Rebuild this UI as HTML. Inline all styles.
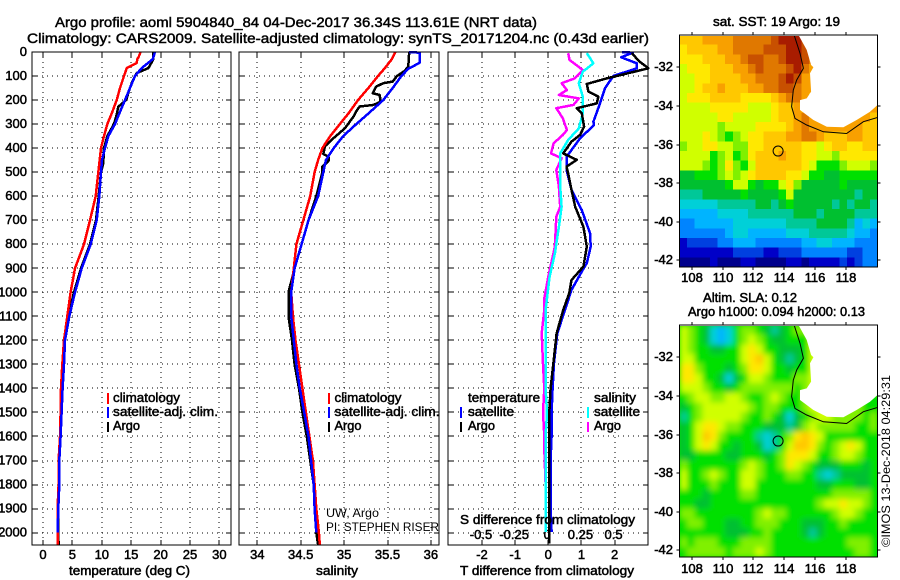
<!DOCTYPE html>
<html lang="en">
<head>
<meta charset="utf-8">
<title>Argo profile 5904840_84</title>
<style>
html,body{margin:0;padding:0;background:#fff;}
svg{display:block;font-family:"Liberation Sans",sans-serif;}
text{fill:#000;font-size:13px;stroke:#000;stroke-width:.5px;}
.thin{stroke:none;font-size:12px;}
.title{font-size:14px;stroke-width:.45px;}
.frame{fill:none;stroke:#000;stroke-width:1;shape-rendering:crispEdges;}
.grid{stroke:#000;stroke-width:1;stroke-dasharray:1 4;shape-rendering:crispEdges;}
.tick{stroke:#000;stroke-width:1;shape-rendering:crispEdges;}
.line{fill:none;stroke-width:2.5;shape-rendering:crispEdges;stroke-linejoin:round;}
.bar{stroke-width:2;shape-rendering:crispEdges;}
</style>
</head>
<body>
<svg id="chart" width="900" height="580" viewBox="0 0 900 580" xmlns="http://www.w3.org/2000/svg">
<defs>
<filter id="soft" x="-5%" y="-5%" width="110%" height="110%"><feGaussianBlur stdDeviation="3"/></filter>
<clipPath id="clipA"><rect x="680" y="36" width="197" height="231"/></clipPath>
<clipPath id="clipB"><rect x="680" y="326" width="197" height="231"/></clipPath>
</defs>

<text class="title" x="55" y="27" textLength="482" lengthAdjust="spacingAndGlyphs">Argo profile: aoml 5904840_84 04-Dec-2017 36.34S 113.61E (NRT data)</text>
<text class="title" x="27" y="43" textLength="622" lengthAdjust="spacingAndGlyphs">Climatology: CARS2009. Satellite-adjusted climatology: synTS_20171204.nc (0.43d earlier)</text>

<g id="layerPanels"></g>

<text x="69" y="575" textLength="121" lengthAdjust="spacingAndGlyphs">temperature (deg C)</text>
<text x="316" y="575" textLength="42" lengthAdjust="spacingAndGlyphs">salinity</text>
<text x="460" y="575" textLength="174" lengthAdjust="spacingAndGlyphs">T difference from climatology</text>

<g>
<line class="bar" x1="108" y1="393" x2="108" y2="404" stroke="#ff0000"/>
<text x="113" y="402" textLength="67" lengthAdjust="spacingAndGlyphs">climatology</text>
<line class="bar" x1="108" y1="407" x2="108" y2="418" stroke="#0000ff"/>
<text x="113" y="416" textLength="105" lengthAdjust="spacingAndGlyphs">satellite-adj. clim.</text>
<line class="bar" x1="108" y1="422" x2="108" y2="432" stroke="#000"/>
<text x="113" y="430" textLength="27" lengthAdjust="spacingAndGlyphs">Argo</text>
</g>

<g>
<line class="bar" x1="329" y1="393" x2="329" y2="404" stroke="#ff0000"/>
<text x="334.5" y="402" textLength="67" lengthAdjust="spacingAndGlyphs">climatology</text>
<line class="bar" x1="329" y1="407" x2="329" y2="418" stroke="#0000ff"/>
<text x="334.5" y="416" textLength="105" lengthAdjust="spacingAndGlyphs">satellite-adj. clim.</text>
<line class="bar" x1="329" y1="422" x2="329" y2="432" stroke="#000"/>
<text x="334.5" y="430" textLength="27" lengthAdjust="spacingAndGlyphs">Argo</text>
<text class="thin" x="326" y="517" textLength="53" lengthAdjust="spacingAndGlyphs">UW, Argo</text>
<text class="thin" x="326" y="531" textLength="113" lengthAdjust="spacingAndGlyphs">PI: STEPHEN RISER</text>
</g>

<g>
<text x="468" y="402" textLength="72" lengthAdjust="spacingAndGlyphs">temperature</text>
<line class="bar" x1="461" y1="407" x2="461" y2="418" stroke="#0000ff"/>
<text x="468" y="416" textLength="46" lengthAdjust="spacingAndGlyphs">satellite</text>
<line class="bar" x1="461" y1="422" x2="461" y2="432" stroke="#000"/>
<text x="468" y="430" textLength="27" lengthAdjust="spacingAndGlyphs">Argo</text>
<text x="594" y="402" textLength="42" lengthAdjust="spacingAndGlyphs">salinity</text>
<line class="bar" x1="588" y1="407" x2="588" y2="418" stroke="#00ffff"/>
<text x="594" y="416" textLength="46" lengthAdjust="spacingAndGlyphs">satellite</text>
<line class="bar" x1="588" y1="422" x2="588" y2="432" stroke="#ff00ff"/>
<text x="594" y="430" textLength="27" lengthAdjust="spacingAndGlyphs">Argo</text>
<text x="460" y="524" textLength="175" lengthAdjust="spacingAndGlyphs">S difference from climatology</text>
</g>

<g id="layerMaps"></g>

<text x="713" y="26" textLength="127" lengthAdjust="spacingAndGlyphs">sat. SST: 19 Argo: 19</text>
<text x="703" y="302" textLength="94" lengthAdjust="spacingAndGlyphs">Altim. SLA: 0.12</text>
<text x="688" y="316" textLength="177" lengthAdjust="spacingAndGlyphs">Argo h1000: 0.094 h2000: 0.13</text>
<text class="thin" transform="translate(890 547) rotate(-90)" textLength="172" lengthAdjust="spacingAndGlyphs">©IMOS 13-Dec-2018 04:29:31</text>
</svg>

<script>
// ---------- profile data ----------
const depthTicks = [0,100,200,300,400,500,600,700,800,900,1000,1100,1200,1300,1400,1500,1600,1700,1800,1900,2000];
const tempTicks = [0,5,10,15,20,25,30];
const salTicks = [34,34.5,35,35.5,36];
const salTickLabels = ['34','34.5','35','35.5','36'];
const diffTicks = [-2,-1,0,1,2];
const sDiffTicks = [-0.5,-0.25,0,0.25,0.5];
const sDiffTickLabels = ['-0.5','-0.25','0','0.25','0.5'];

const tempClimDepth = [0,20,30,46,67,100,150,200,256,300,350,400,500,600,700,800,900,1000,1100,1200,1300,1400,1500,1600,1700,1800,1900,2000,2050];
const tempClimValue = [16.6,16.27,16.04,15.93,14.23,13.78,13.1,12.53,11.68,10.94,10.37,9.86,9.41,8.96,7.99,6.97,5.44,4.7,4.14,3.57,3.29,3.06,3.0,2.89,2.66,2.66,2.49,2.49,2.49];
const tempSatDepth = [0,30,67,100,150,200,256,300,350,400,450,500,600,700,800,900,1000,1100,1200,1300,1400,1500,1600,1700,1800,1900,2000];
const tempSatValue = [19.05,18.65,16.78,15.65,14.8,13.95,12.98,12.24,11.11,10.54,10.03,9.86,9.58,9.13,8.11,6.58,5.44,4.48,3.74,3.57,3.34,3.17,3.0,2.78,2.78,2.61,2.49];
const tempArgoDepth = [0,30,67,88,130,200,228,260,300,350,400,462,500,600,700,800,900,1000,1100,1200,1300,1400,1500,1600,1700,1800,1900,2000,2050];
const tempArgoValue = [18.77,18.77,17.92,15.93,15.07,14.12,12.81,12.53,12.07,10.94,10.37,10.26,9.86,9.47,9.01,7.99,6.47,5.27,4.31,3.74,3.46,3.23,3.11,2.95,2.78,2.66,2.61,2.61,2.66];

const salClimDepth = [0,30,67,100,150,200,256,300,350,400,450,500,600,700,800,900,1000,1100,1200,1300,1400,1500,1600,1700,1800,1900,2000,2050];
const salClimValue = [35.59,35.55,35.47,35.39,35.28,35.16,35.05,34.95,34.84,34.75,34.70,34.66,34.61,34.53,34.45,34.42,34.39,34.41,34.44,34.48,34.52,34.56,34.60,34.64,34.66,34.68,34.71,34.72];
const salSatDepth = [0,3,45,70,100,150,200,256,300,350,400,450,500,600,700,800,900,1000,1100,1200,1300,1400,1500,1600,1700,1800,1900,2000];
const salSatValue = [35.75,35.87,35.87,35.74,35.66,35.56,35.45,35.28,35.14,34.99,34.88,34.79,34.76,34.70,34.59,34.51,34.43,34.39,34.39,34.42,34.45,34.49,34.54,34.59,34.62,34.65,34.66,34.68];
const salArgoDepth = [0,60,78,100,123,130,144,172,179,207,220,227,241,268,317,358,392,424,436,454,477,500,600,700,800,900,1000,1100,1200,1300,1400,1500,1600,1700,1800,1900,2000,2050];
const salArgoValue = [35.75,35.74,35.70,35.61,35.56,35.45,35.37,35.33,35.41,35.42,35.34,35.18,35.15,35.11,35.01,34.88,34.78,34.76,34.82,34.82,34.75,34.75,34.68,34.59,34.51,34.43,34.36,34.36,34.40,34.43,34.48,34.52,34.57,34.61,34.65,34.66,34.68,34.70];

const dTSatDepth = [0,3,22,47,68,100,151,214,290,304,359,436,491,574,658,755,810,879,914,990,1074,1171,1298,1400,1500,1598,1698,1798,1897,1997];
const dTSatValue = [2.22,2.55,2.2,2.67,2.67,1.96,1.71,1.56,1.36,1.38,0.96,0.55,0.55,0.70,1.01,1.26,1.28,1.16,1.01,0.70,0.50,0.27,0.17,0.13,0.10,0.10,0.07,0.07,0.07,0.10];
const dTArgoDepth = [5,40,68,103,110,133,165,186,214,234,255,311,345,373,422,449,477,505,574,644,727,810,893,949,1004,1074,1171,1298,1400,1500,1598,1698,1798,1897,1997,2045];
const dTArgoValue = [2.52,2.75,3.02,1.96,1.76,1.16,1.21,1.51,1.46,0.86,1.01,1.08,0.96,0.70,0.45,0.86,0.55,0.60,0.70,0.81,1.06,1.16,1.06,0.70,0.63,0.45,0.25,0.15,0.07,0.03,0.03,0.03,0.03,0.03,0.03,0.03];
const dSArgoDepth = [5,33,75,110,130,158,179,193,220,234,276,325,345,380,422,442,491,560,644,685,810,935,1025,1074,1171,1298,1400,1500,1598,1650,1800,1897];
const dSArgoValue = [0.15,0.16,0.26,0.20,0.10,0.14,0.08,0.23,0.19,0.06,0.11,0.14,0.11,0.04,0.02,0.10,0.06,0.08,0.09,0.06,0.05,0,-0.03,-0.03,-0.05,-0.04,-0.03,-0.04,-0.03,-0.03,-0.02,-0.02];
const dSSatDepth = [5,47,82,130,186,255,318,366,422,491,560,644,727,838,935,1025,1074,1171,1298,1400,1500,1598,1698,1798,1897,1997];
const dSSatValue = [0.29,0.34,0.26,0.23,0.26,0.26,0.23,0.15,0.09,0.09,0.09,0.10,0.08,0.05,0.01,-0.01,-0.02,-0.02,-0.02,-0.02,-0.01,-0.02,-0.02,-0.02,-0.02,-0.02];

// ---------- map data (colour level per 0.5 degree cell, null = land) ----------
const lonTicks = [108,110,112,114,116,118];
const latTicks = [-32,-34,-36,-38,-40,-42];
const coastLon = [114.93,115.47,115.75,115.90,115.68,115.75,115.47,115.03,115.03,115.90,116.77,117.85,118.71,119.58,120.06,120.06];
const coastLat = [-30.32,-31.10,-31.88,-32.0,-32.31,-33.26,-33.61,-33.70,-34.21,-34.73,-35.08,-35.11,-34.73,-34.30,-33.96,-30.32];
const contourLon = [114.65,115.03,115.25,114.82,114.60,114.49,114.71,115.47,116.55,118.06,119.15,120.06];
const contourLat = [-30.32,-31.27,-32.05,-32.66,-33.18,-34.04,-34.65,-34.99,-35.34,-35.43,-34.82,-34.60];
const floatLon = [113.61];
const floatLat = [-36.34];
const n = null;
const sstGrid = [
[12,12,12,13,13,13,13,14,14,14,14,14,15,16,16,16,15,n,n,n,n,n,n,n,n,n],
[11,12,12,12,12,13,13,14,14,14,14,15,15,15,16,16,15,14,n,n,n,n,n,n,n,n],
[11,11,11,12,12,12,13,13,14,15,15,14,14,15,16,16,15,14,n,n,n,n,n,n,n,n],
[10,11,11,11,12,12,12,13,13,14,15,14,14,14,15,16,14,13,n,n,n,n,n,n,n,n],
[10,10,11,11,12,12,12,12,13,13,14,14,14,15,16,15,13,13,n,n,n,n,n,n,n,n],
[10,10,11,12,12,13,12,12,12,13,13,14,14,15,15,14,13,13,n,n,n,n,n,n,n,n],
[10,11,11,11,12,12,12,12,11,11,11,11,12,13,14,14,13,12,n,n,n,n,n,n,n,n],
[10,10,10,10,11,11,11,11,11,10,10,10,11,12,12,13,12,n,n,n,n,n,n,n,13,13],
[10,10,10,10,10,11,11,10,10,10,10,10,11,12,12,13,14,13,n,n,n,n,n,13,13,12],
[10,10,10,10,10,9,10,10,10,10,11,11,11,11,12,13,14,13,13,13,13,13,13,13,12,12],
[10,10,10,11,10,9,8,9,10,11,11,12,12,12,13,13,14,14,13,12,12,12,13,13,12,12],
[9,10,10,11,11,10,10,9,9,11,11,12,12,12,12,12,11,11,10,11,12,12,11,11,12,12],
[10,10,10,10,8,9,10,8,9,11,12,12,12,13,12,12,11,11,10,10,9,11,11,11,11,11],
[10,10,10,9,8,9,11,9,8,10,12,12,12,12,12,12,11,10,8,8,8,9,10,10,10,9],
[7,7,8,8,8,9,10,9,10,11,12,12,12,12,11,11,10,8,8,7,7,8,8,8,8,8],
[7,7,7,7,7,7,8,10,10,8,7,8,8,10,11,9,7,7,7,7,7,8,7,7,7,7],
[6,6,6,7,7,7,7,7,8,7,7,7,7,8,10,7,7,7,7,7,7,7,7,6,7,7],
[5,5,5,5,5,6,6,6,6,6,7,7,6,7,8,7,7,7,7,7,6,7,6,7,7,6],
[4,4,4,4,4,5,5,5,5,6,6,6,6,6,6,7,7,7,6,7,7,7,7,6,6,6],
[3,3,4,4,4,4,4,5,5,5,5,5,5,5,6,6,6,6,7,7,7,7,6,4,5,4],
[3,3,3,3,3,3,4,5,5,4,4,4,4,4,5,5,5,6,6,6,6,6,5,4,4,3],
[1,2,2,2,2,3,3,4,4,4,3,3,3,3,3,3,4,4,5,5,4,4,4,3,3,3],
[1,1,1,1,1,1,1,2,2,2,2,1,1,2,2,2,3,3,3,3,3,3,2,2,3,3],
[0,0,0,0,1,0,0,0,1,1,0,0,0,0,1,1,0,1,1,1,1,2,1,2,3,3]
];
const slaGrid = [
[10,9,8,7,5,4,5,8,9,9,8,7,6,7,8,9,9,10,10,n,n,n,n,n,n,n],
[10,9,8,7,5,4,5,8,9,10,9,8,7,7,8,8,8,10,10,n,n,n,n,n,n,n],
[10,9,8,8,7,7,8,8,10,11,10,8,8,7,7,7,8,10,10,n,n,n,n,n,n,n],
[10,10,8,8,8,8,8,8,10,11,12,10,8,7,6,7,8,10,10,n,n,n,n,n,n,n],
[11,11,9,8,8,8,7,8,9,11,11,10,8,8,7,8,8,10,10,n,n,n,n,n,n,n],
[11,11,10,8,8,7,5,7,8,10,10,9,8,8,8,9,9,10,10,n,n,n,n,n,n,n],
[10,10,10,9,8,8,7,8,9,9,9,9,9,9,9,8,9,10,n,n,n,n,n,n,n,n],
[8,9,10,10,9,9,10,10,9,8,8,9,10,9,8,8,9,9,n,n,n,n,n,n,8,8],
[7,8,9,10,10,10,10,10,10,9,8,9,9,8,8,8,9,10,10,9,n,n,n,9,8,8],
[6,8,9,10,10,10,10,10,9,8,8,9,8,7,5,7,8,9,10,10,9,9,9,9,8,9],
[7,8,10,11,11,10,9,9,8,8,8,7,7,7,6,7,9,10,9,9,9,9,9,8,8,9],
[7,8,10,12,11,9,8,8,8,8,6,5,6,8,9,11,12,11,10,8,8,8,8,8,8,8],
[7,8,10,11,10,8,8,7,8,8,7,5,6,8,10,12,12,11,9,8,9,10,11,10,8,8],
[7,7,8,8,8,8,7,7,8,8,8,7,8,9,11,11,11,10,8,8,9,10,10,9,8,8],
[9,8,8,8,8,8,8,8,9,10,9,8,8,9,11,10,9,8,7,7,7,8,8,8,7,8],
[10,8,8,9,10,9,8,8,10,10,9,8,8,8,9,9,8,8,6,5,6,7,7,7,7,8],
[10,8,8,8,9,8,8,8,10,10,8,8,8,8,8,8,8,8,7,7,8,8,8,7,7,8],
[8,8,8,7,8,8,8,8,9,9,8,8,8,8,8,8,8,8,8,8,9,9,9,9,9,8],
[8,8,7,7,8,8,8,8,8,8,8,8,8,8,8,8,8,8,9,10,10,11,10,10,9,8],
[9,9,8,8,8,8,8,8,8,8,9,10,9,9,8,8,8,8,8,8,9,10,10,9,8,8],
[8,9,9,8,8,8,7,7,8,8,9,9,9,8,8,8,7,7,7,8,8,9,8,8,8,8],
[8,8,8,8,8,8,7,7,7,8,8,9,8,8,8,8,7,6,7,8,8,8,8,8,8,8],
[9,8,9,9,9,8,8,8,9,9,9,9,8,8,8,8,8,8,8,8,8,8,9,9,9,8],
[8,9,9,9,9,9,8,9,9,9,10,9,8,8,8,8,8,8,8,8,8,8,8,9,9,8]
];
const paletteColors = ['#00008c','#0000c8','#0040e0','#0084ff','#00b4ff','#00d0d8','#00c898','#00c030','#00e000','#80f000','#d0ff00','#ffe800','#ffc800','#f8a000','#e07800','#c85000','#a81c00'];

// ---------- helpers ----------
const NS = 'http://www.w3.org/2000/svg';
function mk(parent, tag, props) {
  const el = document.createElementNS(NS, tag);
  for (const k in props) el.setAttribute(k, props[k]);
  parent.appendChild(el);
  return el;
}
const yDepth = d => 52 + 0.2403 * d;
const xTemp = v => 43 + 5.88 * v;
const xSal = v => 257.3 + 86.8 * (v - 34);
const xDT = v => 548.3 + 33.15 * v;
const xDS = v => 548.3 + 132.6 * v;

const panelsLayer = document.getElementById('layerPanels');
const mapsLayer = document.getElementById('layerMaps');

function drawPanel(key, L, R, xs, ticks, labels) {
  const T = 52, B = 545;
  const g = mk(panelsLayer, 'g', {});
  
  
  depthTicks.forEach(d => {
    const y = Math.round(yDepth(d));
    if (d > 0) {
      const gl = mk(g, 'line', {class:'grid', x1:L, x2:R, y1:y, y2:y});
      
      
    }
    const t1 = mk(g, 'line', {class:'tick', x1:L, x2:L+5, y1:y, y2:y});
    
    
    const t2 = mk(g, 'line', {class:'tick', x1:R-5, x2:R, y1:y, y2:y});
    
    
  });
  ticks.forEach((v, i) => {
    const x = Math.round(xs(v));
    const gl = mk(g, 'line', {class:'grid', x1:x, x2:x, y1:T, y2:B});
    
    
    const t1 = mk(g, 'line', {class:'tick', x1:x, x2:x, y1:B-5, y2:B});
    
    
    const t2 = mk(g, 'line', {class:'tick', x1:x, x2:x, y1:T, y2:T+5});
    
    
    const lab = mk(g, 'text', {x:xs(v), y:559, 'text-anchor':'middle'});
    lab.textContent = labels[i];
    
    
  });
  return g;
}
function drawFrame(g, L, R) {
  const fr = mk(g, 'rect', {class:'frame', x:L, y:52, width:R-L, height:493});
  
  
}
function drawProfile(g, name, color, depths, values, xs) {
  const pts = depths.map((d, i) => xs(values[i]).toFixed(1) + ',' + yDepth(d).toFixed(1)).join(' ');
  const pl = mk(g, 'polyline', {class:'line', stroke:color, points:pts});
  
  
}

// ---------- profile panels ----------
const gT = drawPanel('temperature', 32, 231, xTemp, tempTicks, tempTicks.map(String));
depthTicks.forEach(d => {
  const lab = mk(gT, 'text', {x:27, y:yDepth(d)+4, 'text-anchor':'end'});
  lab.textContent = String(d);
  
  
});
drawProfile(gT, 'temperature-argo-line', '#000000', tempArgoDepth, tempArgoValue, xTemp);
drawProfile(gT, 'temperature-climatology-line', '#ff0000', tempClimDepth, tempClimValue, xTemp);
drawProfile(gT, 'temperature-satellite-line', '#0000ff', tempSatDepth, tempSatValue, xTemp);
drawFrame(gT, 32, 231);

const gS = drawPanel('salinity', 239, 439, xSal, salTicks, salTickLabels);
drawProfile(gS, 'salinity-argo-line', '#000000', salArgoDepth, salArgoValue, xSal);
drawProfile(gS, 'salinity-climatology-line', '#ff0000', salClimDepth, salClimValue, xSal);
drawProfile(gS, 'salinity-satellite-line', '#0000ff', salSatDepth, salSatValue, xSal);
drawFrame(gS, 239, 439);

const gD = drawPanel('difference', 448, 648, xDT, diffTicks, diffTicks.map(String));
sDiffTicks.forEach((v, i) => {
  const lab = mk(gD, 'text', {x:xDS(v)-1, y:539, 'text-anchor':'middle'});
  lab.textContent = sDiffTickLabels[i];
  
  
});
drawProfile(gD, 'salinity-difference-argo-line', '#ff00ff', dSArgoDepth, dSArgoValue, xDS);
drawProfile(gD, 'salinity-difference-satellite-line', '#00ffff', dSSatDepth, dSSatValue, xDS);
drawProfile(gD, 'temperature-difference-satellite-line', '#0000ff', dTSatDepth, dTSatValue, xDT);
drawProfile(gD, 'temperature-difference-argo-line', '#000000', dTArgoDepth, dTArgoValue, xDT);
drawFrame(gD, 448, 648);

// ---------- maps ----------
function drawMap(key, grid, top, clip, labelY, soft) {
  const L = 679.5, R = 877.5, H = 232;
  const xLon = lon => 691.7 + 15.4 * (lon - 108);
  const yLat = lat => top + 32.3 + 19.3 * (-32 - lat);
  const g = mk(mapsLayer, 'g', {});
  
  
  const clipG = mk(g, 'g', {'clip-path':'url(#' + clip + ')'});
  const base = mk(clipG, 'rect', {x:L, y:top, width:R-L, height:H, fill: soft ? '#00e000' : '#ffffff'});
  
  
  const cells = mk(clipG, 'g', soft ? {filter:'url(#soft)'} : {});
  const rows = grid.length, cols = grid[0].length;
  const cw = (R - L) / cols, ch = H / rows;
  grid.forEach((row, r) => row.forEach((v, c) => {
    const val = v === null ? (soft ? 9 : 13) : v;
    const cell = mk(cells, 'rect', {x:(L + c*cw).toFixed(2), y:(top + r*ch).toFixed(2), width:(cw+0.4).toFixed(2), height:(ch+0.4).toFixed(2), fill:paletteColors[val], 'shape-rendering':'crispEdges'});
    
    
  }));
  const land = mk(clipG, 'polygon', {fill:'#ffffff', points:coastLon.map((lo, i) => xLon(lo).toFixed(1) + ',' + yLat(coastLat[i]).toFixed(1)).join(' ')});
  
  
  const cont = mk(clipG, 'polyline', {fill:'none', stroke:'#000', 'stroke-width':1, points:contourLon.map((lo, i) => xLon(lo).toFixed(1) + ',' + yLat(contourLat[i]).toFixed(1)).join(' ')});
  
  
  floatLon.forEach((lo, i) => {
    const m = mk(clipG, 'circle', {cx:xLon(lo), cy:yLat(floatLat[i]), r:5, fill:'none', stroke:'#000', 'stroke-width':1});
    
    
  });
  const fr = mk(g, 'rect', {class:'frame', x:L, y:top, width:R-L, height:H});
  
  
  lonTicks.forEach(lo => {
    const x = Math.round(xLon(lo));
    const t1 = mk(g, 'line', {class:'tick', x1:x, x2:x, y1:top-3, y2:top});
    
    
    const t2 = mk(g, 'line', {class:'tick', x1:x, x2:x, y1:top+H, y2:top+H+3});
    
    
    const lab = mk(g, 'text', {x:x, y:labelY, 'text-anchor':'middle'});
    lab.textContent = String(lo);
    
    
  });
  latTicks.forEach(la => {
    const y = Math.round(yLat(la));
    const t1 = mk(g, 'line', {class:'tick', x1:L-3, x2:L, y1:y, y2:y});
    
    
    const t2 = mk(g, 'line', {class:'tick', x1:R, x2:R+3, y1:y, y2:y});
    
    
    const lab = mk(g, 'text', {x:673, y:y+4, 'text-anchor':'end'});
    lab.textContent = String(la);
    
    
  });
}
drawMap('sst', sstGrid, 35, 'clipA', 282, false);
drawMap('sla', slaGrid, 325, 'clipB', 573, true);
</script>
</body>
</html>
